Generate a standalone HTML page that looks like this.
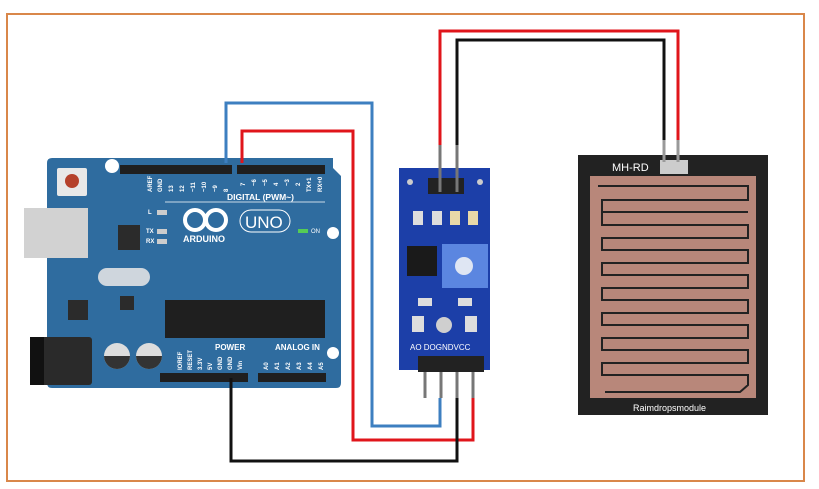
<!DOCTYPE html>
<html><head><meta charset="utf-8"><style>
html,body{margin:0;padding:0;background:#fff;width:819px;height:489px;overflow:hidden}
svg{display:block}
text{font-family:"Liberation Sans",sans-serif}
</style></head><body>
<svg width="819" height="489" viewBox="0 0 819 489" xmlns="http://www.w3.org/2000/svg">
<rect x="7" y="14" width="797" height="467" fill="#fff" stroke="#d9874a" stroke-width="2"/>

<!-- Arduino -->
<path d="M52 158 H333 V168 L341 176 V383 Q341 388 336 388 H52 Q47 388 47 383 V163 Q47 158 52 158Z" fill="#2f6c9f"/>
<rect x="24" y="208" width="64" height="50" fill="#d2d2d2"/>
<rect x="30" y="337" width="62" height="48" rx="3" fill="#2a2a2a"/>
<rect x="30" y="337" width="14" height="48" fill="#111"/>
<circle cx="112" cy="166" r="7" fill="#fff"/>
<circle cx="333" cy="233" r="6" fill="#fff"/>
<circle cx="333" cy="353" r="6" fill="#fff"/>
<rect x="57" y="168" width="30" height="28" rx="2" fill="#e8e8e8"/>
<circle cx="72" cy="181" r="7" fill="#b5412b"/>
<rect x="118" y="225" width="22" height="25" fill="#2b2b2b"/>
<rect x="98" y="268" width="52" height="18" rx="9" fill="#cfd6dd"/>
<rect x="120" y="296" width="14" height="14" fill="#2b2b2b"/>
<rect x="68" y="300" width="20" height="20" fill="#2b2b2b"/>
<rect x="157" y="210" width="10" height="5" fill="#ccc"/>
<rect x="157" y="229" width="10" height="5" fill="#ccc"/>
<rect x="157" y="239" width="10" height="5" fill="#ccc"/>
<circle cx="117" cy="356" r="13" fill="#ddd"/><path d="M104 356 A13 13 0 0 0 130 356Z" fill="#333"/>
<circle cx="149" cy="356" r="13" fill="#ddd"/><path d="M136 356 A13 13 0 0 0 162 356Z" fill="#333"/>
<rect x="165" y="300" width="160" height="38" fill="#1f1f1f"/>
<rect x="120" y="165" width="112" height="9" fill="#1f1f1f"/>
<rect x="237" y="165" width="88" height="9" fill="#1f1f1f"/>
<rect x="160" y="373" width="88" height="9" fill="#1f1f1f"/>
<rect x="258" y="373" width="68" height="9" fill="#1f1f1f"/>
<line x1="165" y1="202" x2="325" y2="202" stroke="#fff" stroke-width="0.8"/>
<g font-size="6" fill="#fff" font-weight="bold">
<text transform="translate(152,192) rotate(-90)">AREF</text>
<text transform="translate(162,192) rotate(-90)">GND</text>
<text transform="translate(173,192) rotate(-90)">13</text>
<text transform="translate(184,192) rotate(-90)">12</text>
<text transform="translate(195,192) rotate(-90)">~11</text>
<text transform="translate(206,192) rotate(-90)">~10</text>
<text transform="translate(217,192) rotate(-90)">~9</text>
<text transform="translate(228,192) rotate(-90)">8</text>
<text transform="translate(245,186) rotate(-90)">7</text>
<text transform="translate(256,186) rotate(-90)">~6</text>
<text transform="translate(267,186) rotate(-90)">~5</text>
<text transform="translate(278,186) rotate(-90)">4</text>
<text transform="translate(289,186) rotate(-90)">~3</text>
<text transform="translate(300,186) rotate(-90)">2</text>
<text transform="translate(311,192) rotate(-90)">TX+1</text>
<text transform="translate(322,192) rotate(-90)">RX+0</text>
<text transform="translate(268,370) rotate(-90)">A0</text>
<text transform="translate(279,370) rotate(-90)">A1</text>
<text transform="translate(290,370) rotate(-90)">A2</text>
<text transform="translate(301,370) rotate(-90)">A3</text>
<text transform="translate(312,370) rotate(-90)">A4</text>
<text transform="translate(323,370) rotate(-90)">A5</text>
<text transform="translate(182,370) rotate(-90)">IOREF</text>
<text transform="translate(192,370) rotate(-90)">RESET</text>
<text transform="translate(202,370) rotate(-90)">3.3V</text>
<text transform="translate(212,370) rotate(-90)">5V</text>
<text transform="translate(222,370) rotate(-90)">GND</text>
<text transform="translate(232,370) rotate(-90)">GND</text>
<text transform="translate(242,370) rotate(-90)">Vin</text>
<text x="148" y="214">L</text><text x="146" y="233">TX</text><text x="146" y="243">RX</text>
</g>
<text x="227" y="200" font-size="8.5" font-weight="bold" fill="#fff">DIGITAL (PWM~)</text>
<text x="183" y="242" font-size="9" font-weight="bold" fill="#fff">ARDUINO</text>
<circle cx="195" cy="220" r="10" fill="none" stroke="#fff" stroke-width="4"/>
<circle cx="216" cy="220" r="10" fill="none" stroke="#fff" stroke-width="4"/>
<rect x="240" y="210" width="50" height="22" rx="11" fill="none" stroke="#fff"/>
<text x="245" y="228" font-size="17" fill="#fff">UNO</text>
<text x="215" y="350" font-size="8" font-weight="bold" fill="#fff">POWER</text>
<text x="275" y="350" font-size="8" font-weight="bold" fill="#fff">ANALOG IN</text>
<rect x="298" y="229" width="10" height="4" fill="#5c5"/>
<text x="311" y="233" font-size="6" fill="#fff">ON</text>

<!-- module -->
<rect x="399" y="168" width="91" height="202" fill="#1c3fa8"/>
<rect x="428" y="178" width="36" height="16" fill="#222"/>
<circle cx="410" cy="182" r="3" fill="#ccc"/><circle cx="480" cy="182" r="3" fill="#ccc"/>
<rect x="413" y="211" width="10" height="14" fill="#ddd"/>
<rect x="432" y="211" width="10" height="14" fill="#ddd"/>
<rect x="450" y="211" width="10" height="14" fill="#e8d9a8"/>
<rect x="468" y="211" width="10" height="14" fill="#e8d9a8"/>
<rect x="407" y="246" width="30" height="30" fill="#1a1a1a"/>
<rect x="442" y="244" width="46" height="44" fill="#5b86e0"/>
<circle cx="464" cy="266" r="9" fill="#dfe6f3"/>
<rect x="418" y="298" width="14" height="8" fill="#ddd"/>
<rect x="458" y="298" width="14" height="8" fill="#ddd"/>
<circle cx="444" cy="325" r="8" fill="#cfcfcf"/>
<rect x="412" y="316" width="12" height="16" fill="#ddd"/>
<rect x="465" y="316" width="12" height="16" fill="#ddd"/>
<text x="410" y="350" font-size="8" fill="#fff">AO DOGNDVCC</text>
<rect x="418" y="356" width="66" height="16" fill="#222"/>
<g stroke="#777" stroke-width="3"><line x1="425" y1="372" x2="425" y2="398"/><line x1="441" y1="372" x2="441" y2="398"/><line x1="457" y1="372" x2="457" y2="398"/><line x1="473" y1="372" x2="473" y2="398"/>
<line x1="440" y1="145" x2="440" y2="192"/><line x1="457" y1="145" x2="457" y2="192"/></g>

<!-- sensor -->
<rect x="578" y="155" width="190" height="260" fill="#222"/>
<rect x="590" y="176" width="166" height="222" fill="#b8877a"/>
<g fill="none" stroke="#222" stroke-width="2">
<path d="M598 186 H748 V200 H602 V212 H748"/>
<path d="M602 212 V225 H748 V238 H602 V250 H748 V263 H602 V275 H748 V288 H602 V300 H748 V313 H602 V325 H748 V338 H602 V350 H748 V363 H602 V375 H748 V385 L740 392 H605"/>
</g>
<text x="612" y="171" font-size="11" fill="#fff">MH-RD</text>
<rect x="660" y="160" width="28" height="14" fill="#ccc"/>
<text x="633" y="411" font-size="9" fill="#fff">Raimdropsmodule</text>
<g stroke="#999" stroke-width="3"><line x1="664" y1="135" x2="664" y2="162"/><line x1="678" y1="135" x2="678" y2="162"/></g>

<!-- wires -->
<g fill="none" stroke-width="3">
<polyline points="226,163 226,103 372,103 372,426 440,426 440,398" stroke="#3d7fc0"/>
<polyline points="242,163 242,131 353,131 353,440 473,440 473,398" stroke="#e0151b"/>
<polyline points="231,378 231,461 457,461 457,398" stroke="#111"/>
<polyline points="440,145 440,31 678,31 678,140" stroke="#e0151b"/>
<polyline points="457,145 457,40 664,40 664,140" stroke="#111"/>
</g>
</svg>
</body></html>
